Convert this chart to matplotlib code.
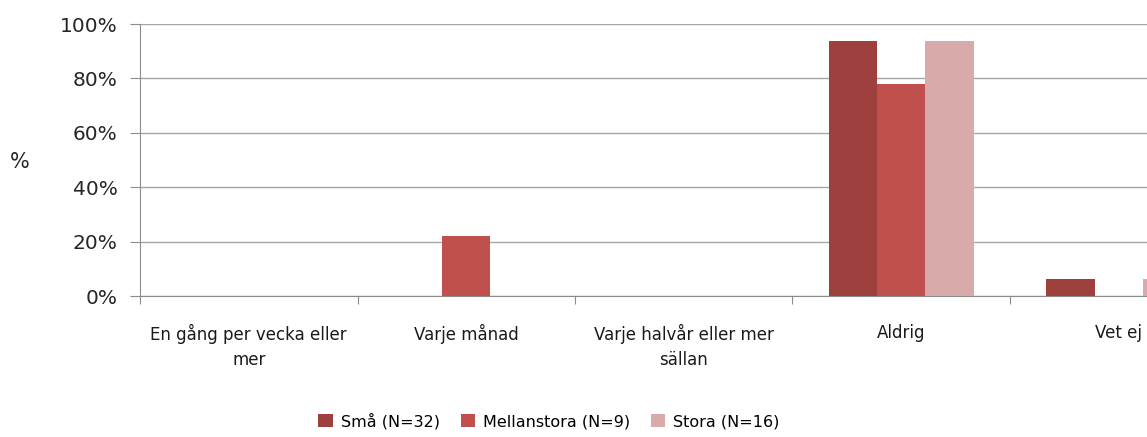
import numpy as np
import matplotlib.pyplot as plt
from matplotlib.ticker import PercentFormatter

categories = ["En gång per vecka eller\nmer", "Varje månad",
              "Varje halvår eller mer\nsällan", "Aldrig", "Vet ej"]
series_names = ["Små (N=32)", "Mellanstora (N=9)", "Stora (N=16)"]
sma = [0, 0, 0, 93.75, 6.25]
mellan = [0, 22.2, 0, 77.8, 0]
stora = [0, 0, 0, 93.75, 6.25]
colors = ["#9E413E", "#C0504D", "#D9AAAA"]

fig = plt.figure(figsize=(11.47, 4.37), dpi=100)
W, H = 1147, 437
# axes runs past the right edge, like the cropped original
ax = fig.add_axes([140 / W, (H - 296) / H, 5 * 217.5 / W, 272 / H])

x = np.arange(len(categories))
bw = 1 / 4.5
for i, (vals, name) in enumerate(zip([sma, mellan, stora], series_names)):
    ax.bar(x + (i - 1) * bw, vals, bw, color=colors[i], label=name, zorder=3)

ax.set_xlim(-0.5, len(categories) - 0.5)
ax.set_ylim(0, 100)
ax.set_yticks(range(0, 101, 20))
ax.yaxis.set_major_formatter(PercentFormatter(decimals=0))
ax.grid(axis='y', color='#a6a6a6', linewidth=1, zorder=0)

ax.set_xticks(np.arange(-0.5, len(categories), 1))
ax.set_xticklabels([])
ax.set_xticks(x, minor=True)
ax.set_xticklabels(categories, minor=True, fontsize=12, linespacing=1.5,
                   color='#1a1a1a',
                   family=['Liberation Sans Narrow', 'DejaVu Sans'])
ax.tick_params(axis='x', which='minor', length=0, pad=20)
ax.tick_params(axis='x', which='major', length=6, color='#8c8c8c')
ax.tick_params(axis='y', length=7, color='#8c8c8c', labelsize=14.5, pad=9,
               labelcolor='#262626')
for s in ['top', 'right']:
    ax.spines[s].set_visible(False)
for s in ['left', 'bottom']:
    ax.spines[s].set_color('#8c8c8c')

fig.text(20 / W, 1 - 162 / H, "%", fontsize=15, ha='center', va='center',
         color='#262626')

fig.legend(loc='center', bbox_to_anchor=(549 / W, 1 - 421 / H), ncol=3,
           frameon=False, fontsize=11.5, handlelength=0.9, handleheight=0.9,
           handletextpad=0.5, columnspacing=1.3)

fig.savefig("out.png", dpi=100)
